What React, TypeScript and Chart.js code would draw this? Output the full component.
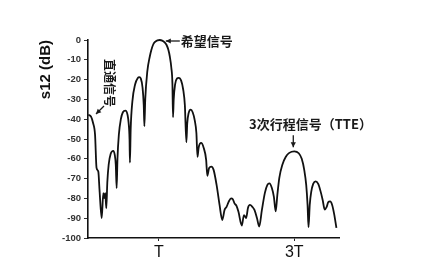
import React, { useEffect, useRef } from "react";
import { Chart, registerables } from "chart.js";

Chart.register(...registerables);

// Time in units of T
const timeT: number[] = [
  -0.04, 0.0, 0.029, 0.059, 0.081, 0.107, 0.125, 0.157, 0.181, 0.196, 0.21, 0.225,
  0.24, 0.26, 0.29, 0.328, 0.35, 0.365, 0.378, 0.39, 0.41, 0.44, 0.47, 0.507,
  0.54, 0.555, 0.568, 0.574, 0.585, 0.61, 0.65, 0.69, 0.713, 0.735, 0.76, 0.778,
  0.787, 0.8, 0.83, 0.868, 0.89, 0.916, 0.94, 0.98, 1.015, 1.05, 1.09, 1.113,
  1.14, 1.162, 1.185, 1.201, 1.21, 1.22, 1.24, 1.27, 1.294, 1.33, 1.36, 1.385,
  1.407, 1.42, 1.44, 1.47, 1.5, 1.53, 1.555, 1.571, 1.588, 1.625, 1.662, 1.699,
  1.716, 1.743, 1.776, 1.809, 1.853, 1.897, 1.937, 1.971, 2.0, 2.037, 2.066, 2.093,
  2.118, 2.147, 2.176, 2.225, 2.257, 2.29, 2.316, 2.346, 2.382, 2.412, 2.449, 2.482,
  2.522, 2.566, 2.603, 2.632, 2.669, 2.699, 2.725, 2.75, 2.779, 2.824, 2.875, 2.926,
  3.0, 3.066, 3.11, 3.147, 3.176, 3.196, 3.21, 3.228, 3.25, 3.279, 3.316, 3.353,
  3.39, 3.419, 3.449, 3.478, 3.5, 3.529, 3.559, 3.588, 3.622,
];

// s12 in dB
const s12dB: number[] = [
  -37.7, -38.7, -41.8, -47.8, -64.6, -66.4, -75.7, -90.0, -77.4, -79.9, -77.4, -85.0,
  -72.0, -63.0, -57.5, -56.0, -58.0, -63.0, -74.8, -60.0, -48.0, -40.0, -36.5, -35.7,
  -38.0, -42.0, -50.0, -61.9, -45.0, -31.0, -22.5, -19.2, -18.8, -19.5, -24.0, -33.0,
  -43.6, -30.0, -16.0, -8.2, -5.0, -2.4, -1.1, -0.2, 0.0, -0.3, -1.3, -2.4,
  -4.8, -8.2, -14.0, -22.0, -39.0, -30.0, -22.5, -19.4, -19.1, -20.5, -25.0, -33.0,
  -51.6, -42.0, -37.0, -35.2, -36.5, -40.5, -47.0, -59.0, -54.4, -52.0, -54.4, -60.5,
  -68.6, -64.6, -64.0, -65.6, -73.2, -83.3, -90.9, -85.8, -84.3, -81.3, -80.0, -80.4,
  -82.5, -83.8, -86.8, -93.7, -88.4, -89.9, -84.8, -83.3, -84.3, -85.8, -89.9, -94.2,
  -85.8, -77.2, -73.2, -72.4, -74.7, -79.2, -86.6, -78.2, -69.6, -63.0, -59.0, -57.0,
  -56.2, -57.2, -60.0, -65.6, -73.2, -83.3, -94.6, -83.3, -76.7, -72.7, -71.4, -72.7,
  -76.7, -80.8, -85.6, -84.3, -82.0, -81.5, -83.3, -87.8, -94.9,
];

const xTickValues: number[] = [1, 3];
const xTickLabels: string[] = ["T", "3T"];
const yTitle = "s12 (dB)";
const annDesired = "希望信号";
const annDirect = "直通信号";
const annTTE = "3次行程信号（TTE）";

const CJK = '"Noto Sans CJK SC", "Noto Sans", sans-serif';

function arrow(ctx: CanvasRenderingContext2D, x1: number, y1: number, x2: number, y2: number) {
  ctx.beginPath();
  ctx.moveTo(x1, y1);
  ctx.lineTo(x2, y2);
  ctx.stroke();
  const a = Math.atan2(y2 - y1, x2 - x1);
  const L = 5;
  const w = 2.6;
  ctx.beginPath();
  ctx.moveTo(x2, y2);
  ctx.lineTo(x2 - L * Math.cos(a) + w * Math.sin(a), y2 - L * Math.sin(a) - w * Math.cos(a));
  ctx.lineTo(x2 - L * Math.cos(a) - w * Math.sin(a), y2 - L * Math.sin(a) + w * Math.cos(a));
  ctx.closePath();
  ctx.fill();
}

const annotationPlugin = {
  id: "annotations",
  afterDraw(chart: any) {
    const ctx: CanvasRenderingContext2D = chart.ctx;
    const xs = chart.scales.x;
    const ys = chart.scales.y;
    ctx.save();
    ctx.fillStyle = "#1a1a1a";
    ctx.strokeStyle = "#1a1a1a";
    ctx.lineWidth = 1.3;

    const peakX = xs.getPixelForValue(1.015);
    const peakY = ys.getPixelForValue(0);
    ctx.font = `bold 13px ${CJK}`;
    ctx.textAlign = "left";
    ctx.textBaseline = "middle";
    ctx.fillText(annDesired, peakX + 21, peakY + 1.5);
    arrow(ctx, peakX + 20, peakY + 1, peakX + 6, peakY + 1);

    ctx.save();
    ctx.translate(110, 83);
    ctx.rotate(Math.PI / 2);
    ctx.font = `bold 12px ${CJK}`;
    ctx.textAlign = "center";
    ctx.textBaseline = "middle";
    ctx.fillText(annDirect, 0, 0);
    ctx.restore();
    arrow(ctx, 104, 106, 96, 114);

    const tteX = xs.getPixelForValue(3.0);
    const tteY = ys.getPixelForValue(-56.2);
    ctx.font = `bold 13px ${CJK}`;
    ctx.textAlign = "left";
    ctx.textBaseline = "middle";
    ctx.fillText(annTTE, 249, 124);
    arrow(ctx, tteX - 1, tteY - 16, tteX - 1, tteY - 4);

    ctx.restore();
  },
};

export default function App() {
  const ref = useRef<HTMLCanvasElement | null>(null);

  useEffect(() => {
    if (!ref.current) return;
    const points = timeT.map((t, i) => ({ x: t, y: s12dB[i] }));
    const chart = new Chart(ref.current, {
      type: "line",
      data: {
        datasets: [
          {
            data: points,
            borderColor: "#111",
            borderWidth: 1.8,
            pointRadius: 0,
            fill: false,
            clip: false,
            cubicInterpolationMode: "monotone",
          },
        ],
      },
      options: {
        animation: false,
        responsive: false,
        devicePixelRatio: 1,
        layout: { padding: { top: 40, right: 101, left: 0, bottom: 0 } },
        plugins: { legend: { display: false }, tooltip: { enabled: false } },
        scales: {
          x: {
            type: "linear",
            min: -0.045,
            max: 3.66,
            afterBuildTicks: (scale: any) => {
              scale.ticks = xTickValues.map((v) => ({ value: v }));
            },
            afterFit: (scale: any) => {
              scale.height = 27;
            },
            grid: { drawOnChartArea: false, drawTicks: true, tickLength: 3, color: "#222" },
            border: { color: "#111", width: 1.6 },
            ticks: {
              autoSkip: false,
              maxRotation: 0,
              padding: 2,
              color: "#111",
              font: { family: '"Liberation Sans", Arial, sans-serif', size: 16 },
              callback: (v: any) => {
                const i = xTickValues.indexOf(Number(v));
                return i >= 0 ? xTickLabels[i] : "";
              },
            },
          },
          y: {
            min: -100,
            max: 0,
            afterFit: (scale: any) => {
              scale.width = 88;
            },
            title: {
              display: true,
              text: yTitle,
              align: "end",
              color: "#111",
              padding: { top: 37, bottom: 0 },
              font: { family: '"Liberation Sans", Arial, sans-serif', size: 15, weight: "bold" },
            },
            grid: { drawOnChartArea: false, drawTicks: true, tickLength: 4, color: "#333" },
            border: { color: "#111", width: 1.6 },
            ticks: {
              stepSize: 10,
              padding: 3,
              color: "#333",
              font: { family: '"Liberation Sans", Arial, sans-serif', size: 9.5, weight: "bold" },
              callback: (v: any) => String(v),
            },
          },
        },
      },
      plugins: [annotationPlugin],
    } as any);
    return () => chart.destroy();
  }, []);

  return (
    <div style={{ position: "absolute", left: 0, top: 0, width: 440, height: 265, background: "#fff" }}>
      <canvas ref={ref} width={440} height={265} style={{ display: "block" }} />
    </div>
  );
}
